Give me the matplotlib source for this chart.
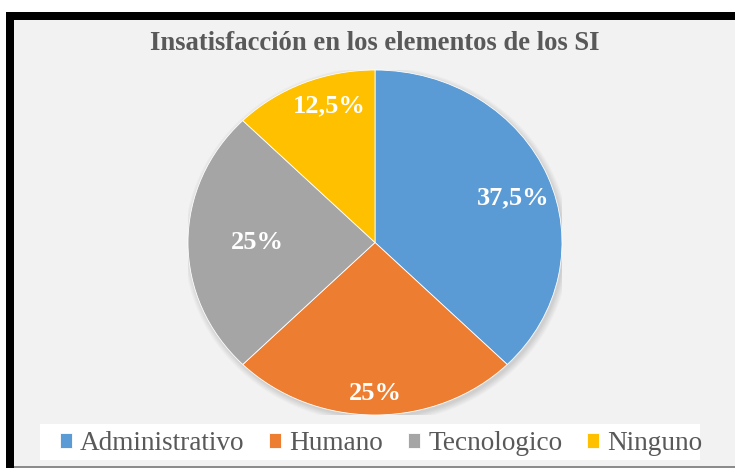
import numpy as np
import matplotlib.pyplot as plt
from matplotlib.patches import Rectangle, Ellipse

categorias = ['Administrativo', 'Humano', 'Tecnologico', 'Ninguno']
valores = [37.5, 25, 25, 12.5]
colores = ['#5B9BD5', '#ED7D31', '#A5A5A5', '#FFC000']
titulo = 'Insatisfacción en los elementos de los SI'

W, H = 735, 468
fig = plt.figure(figsize=(W / 100, H / 100), dpi=100)
fig.patch.set_facecolor('white')

# marco: borde negro arriba e izquierda, fondo gris claro
fig.patches.append(Rectangle((6 / W, 0), 1, 1 - 12 / H, transform=fig.transFigure,
                             facecolor='black', edgecolor='none', zorder=-10))
fig.patches.append(Rectangle((14 / W, 2 / H), 1, 1 - 22 / H, transform=fig.transFigure,
                             facecolor='#F2F2F2', edgecolor='none', zorder=-10))
fig.patches.append(Rectangle((14 / W, 0), 1, 2 / H, transform=fig.transFigure,
                             facecolor='#8C8C8C', edgecolor='none', zorder=-10))
# caja blanca de la leyenda
fig.patches.append(Rectangle((40 / W, (H - 460) / H), 660 / W, 36 / H, transform=fig.transFigure,
                             facecolor='white', edgecolor='none', zorder=-9))

# pastel (la imagen original esta estirada a lo ancho)
cx, cy, rx, ry = 375, 242.5, 187, 172.5
ax = fig.add_axes([(cx - rx) / W, (H - cy - ry) / H, 2 * rx / W, 2 * ry / H])
ax.set_facecolor('none')

# sombra suave
for k in range(6):
    ax.add_patch(Ellipse((0.01, -0.015), 2 + 0.012 * k, 2 + 0.013 * k, facecolor='#000000',
                         alpha=0.025, edgecolor='none', zorder=0))


def fmt(p):
    return f'{p:g}'.replace('.', ',') + '%'


wedges, texts, autotexts = ax.pie(valores, colors=colores, startangle=90, counterclock=False,
                                  autopct=fmt, pctdistance=0.78,
                                  wedgeprops=dict(edgecolor='white', linewidth=0.6, zorder=2),
                                  textprops=dict(color='white', fontsize=19, fontweight='bold',
                                                 family='Liberation Serif', zorder=3))
# posiciones de las etiquetas (distancia radial y giro en grados)
dist = [0.783, 0.878, 0.631, 0.828]
giro = [-3, 0, 0, -5.2]
for w, t, d, g in zip(wedges, autotexts, dist, giro):
    th = np.deg2rad((w.theta1 + w.theta2) / 2 + g)
    t.set_position((d * np.cos(th), d * np.sin(th)))
ax.set_xlim(-1, 1)
ax.set_ylim(-1, 1)
ax.set_aspect('auto')

fig.text(375 / W, 1 - 44 / H, titulo, ha='center', va='center', fontsize=19.2, fontweight='bold',
         color='#595959', family='Liberation Serif')

fig.legend(wedges, categorias, loc='center', bbox_to_anchor=(381 / W, 1 - 444 / H), ncol=4,
           frameon=False, handlelength=0.45, handleheight=0.45, handletextpad=0.3, columnspacing=0.9,
           prop=dict(family='Liberation Serif', size=19.6), labelcolor='#595959')

fig.savefig('out.png', dpi=100)
